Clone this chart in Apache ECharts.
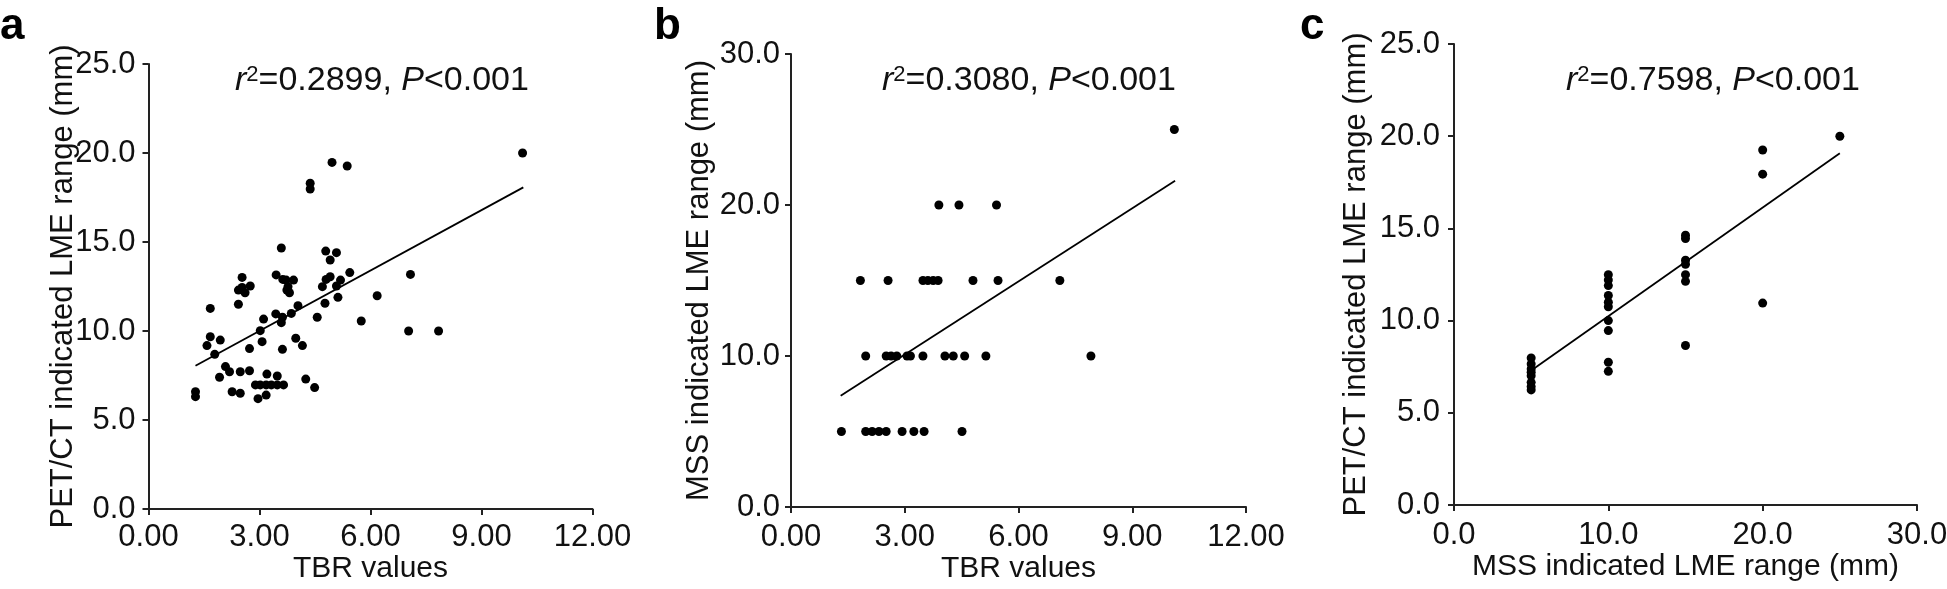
<!DOCTYPE html>
<html><head><meta charset="utf-8">
<script src="https://cdn.jsdelivr.net/npm/echarts@6/dist/echarts.min.js"></script>
<style>html,body{margin:0;padding:0;background:#fff}#c{width:1947px;height:589px}</style>
</head><body><div id="c"></div>
<script>
// ---- Panel a: TBR vs PET/CT indicated LME range ----
const aTBR = [1.27,1.27,1.67,1.58,1.67,1.94,1.79,1.92,2.08,2.19,2.26,2.48,2.48,2.43,2.43,2.53,2.61,2.75,2.53,2.73,2.73,2.89,2.96,3.02,3.07,3.11,3.02,3.18,3.18,3.20,3.32,3.45,3.44,3.48,3.48,3.59,3.59,3.62,3.62,3.65,3.63,3.72,3.77,3.81,3.92,3.74,3.86,3.98,4.04,4.16,4.25,4.37,4.37,4.49,4.56,4.70,4.77,4.79,4.80,4.91,4.91,4.96,5.08,5.08,5.12,5.19,5.37,5.44,5.75,6.18,7.03,7.08,7.84,10.11];
const aPET = [6.59,6.31,11.27,9.18,9.68,9.49,8.69,7.40,8.00,7.71,6.59,6.50,7.71,11.50,12.30,13.01,12.15,12.53,12.45,9.01,7.77,6.97,6.20,10.02,9.40,10.67,6.97,6.40,6.97,7.58,6.97,13.15,10.96,7.47,6.97,14.66,10.47,10.77,8.97,6.97,12.90,12.86,12.49,12.15,12.86,12.30,10.99,9.59,11.42,9.18,7.30,18.30,17.98,6.82,10.77,12.49,11.56,14.49,12.90,13.99,13.05,19.47,14.40,12.53,11.89,12.86,19.27,13.28,10.56,11.98,10.00,13.18,10.00,20.00];
const aFit = [[1.27, 8.05], [10.13, 18.07]];

// ---- Panel b: TBR vs MSS indicated LME range ----
const bTBR = [1.33,1.97,2.14,2.32,2.51,2.93,3.24,3.51,4.51, 1.97,2.51,2.64,2.79,3.06,3.15,3.48,4.06,4.28,4.58,5.14,7.91, 1.83,2.56,3.48,3.61,3.75,3.88,4.80,5.46,7.09, 3.90,4.43,5.42, 10.11];
const bMSS = [5,5,5,5,5,5,5,5,5, 10,10,10,10,10,10,10,10,10,10,10,10, 15,15,15,15,15,15,15,15,15, 20,20,20, 25];
const bFit = [[1.31, 7.37], [10.13, 21.6]];

// ---- Panel c: MSS vs PET/CT indicated LME range ----
const cMSS = [5,5,5,5,5,5,5,5, 10,10,10,10,10,10,10,10,10,10, 15,15,15,15,15,15,15, 20,20,20, 25];
const cPET = [7.97,7.65,7.38,7.20,7.01,6.65,6.42,6.24, 12.49,12.20,11.90,11.36,11.00,10.75,10.00,9.46,7.74,7.25, 14.63,14.45,13.27,13.05,12.49,12.13,8.65, 19.25,17.94,10.95, 20.00];
const cFit = [[5.0, 7.29], [25.0, 19.08]];

const panelLetters = ['a', 'b', 'c'];
const statTexts = [['0.2899', '0.001'], ['0.3080', '0.001'], ['0.7598', '0.001']];
const xNames = ['TBR values', 'TBR values', 'MSS indicated LME range (mm)'];
const yNames = ['PET/CT indicated LME range (mm)', 'MSS indicated LME range (mm)', 'PET/CT indicated LME range (mm)'];

const FONT = "'Liberation Sans', Arial, Helvetica, sans-serif";
const INK = '#111';

function zip(xs, ys) { return xs.map((v, i) => [v, ys[i]]); }

function axisBase(extra, nameSize) {
  return Object.assign({
    type: 'value',
    splitLine: { show: false },
    axisLine: { show: true, onZero: false, lineStyle: { color: '#222', width: 2 } },
    axisTick: { show: true, inside: false, length: 6, lineStyle: { color: '#222', width: 2 } },
    nameLocation: 'middle',
    nameMoveOverlap: false,
    nameTextStyle: { fontSize: nameSize, fontFamily: FONT, color: INK, fontWeight: 'normal' },
  }, extra);
}
function lbl(decimals, margin) {
  return { fontSize: 31, fontFamily: FONT, color: INK, margin: margin, showMinLabel: true, showMaxLabel: true,
    formatter: v => Number(v).toFixed(decimals) };
}

const grids = [
  { left: 148.5, top: 64, width: 444, height: 445 },
  { left: 791, top: 54, width: 455, height: 453 },
  { left: 1454, top: 44, width: 463, height: 461 },
].map(g => Object.assign({ containLabel: false, outerBoundsMode: 'none' }, g));

const xAxes = [
  axisBase({ gridIndex: 0, min: 0, max: 12, interval: 3, name: xNames[0], nameGap: 45, axisLabel: lbl(2, 13) }, 30),
  axisBase({ gridIndex: 1, min: 0, max: 12, interval: 3, name: xNames[1], nameGap: 47, axisLabel: lbl(2, 15) }, 30),
  axisBase({ gridIndex: 2, min: 0, max: 30, interval: 10, name: xNames[2], nameGap: 47, axisLabel: lbl(1, 15) }, 30),
];
const yAxes = [
  axisBase({ gridIndex: 0, min: 0, max: 25, interval: 5, name: yNames[0], nameGap: 70, axisLabel: lbl(1, 13) }, 31),
  axisBase({ gridIndex: 1, min: 0, max: 30, interval: 10, name: yNames[1], nameGap: 76, axisLabel: lbl(1, 11) }, 31),
  axisBase({ gridIndex: 2, min: 0, max: 25, interval: 5, name: yNames[2], nameGap: 82, axisLabel: lbl(1, 14) }, 31),
];

const scatterData = [zip(aTBR, aPET), zip(bTBR, bMSS), zip(cMSS, cPET)];
const fits = [aFit, bFit, cFit];
const series = [];
for (let i = 0; i < 3; i++) {
  series.push({ type: 'scatter', xAxisIndex: i, yAxisIndex: i, data: scatterData[i], symbol: 'circle', symbolSize: 9,
    itemStyle: { color: '#000', opacity: 1 }, silent: true, z: 3 });
  series.push({ type: 'line', xAxisIndex: i, yAxisIndex: i, data: fits[i], showSymbol: false, symbol: 'none',
    lineStyle: { color: '#000', width: 1.8 }, silent: true, z: 2 });
}

const rich = {
  i: { fontSize: 34, fontStyle: 'italic', fontWeight: 'normal', fontFamily: FONT, color: INK },
  s: { fontSize: 22, fontWeight: 'normal', fontFamily: FONT, color: INK, verticalAlign: 'top' },
  n: { fontSize: 34, fontWeight: 'normal', fontFamily: FONT, color: INK },
};
const letterPos = [0, 654, 1300];
const statPos = [[235, 64], [882, 64], [1566, 64]];
const titles = [];
for (let i = 0; i < 3; i++) {
  titles.push({ text: panelLetters[i], left: letterPos[i], top: 5, padding: 0,
    textStyle: { fontSize: 44, fontWeight: 'bold', fontFamily: FONT, color: '#000' } });
  titles.push({ text: '{i|r}{s|2}{n|=' + statTexts[i][0] + ', }{i|P}{n|<' + statTexts[i][1] + '}',
    left: statPos[i][0], top: statPos[i][1], padding: 0,
    textStyle: { rich: rich, fontSize: 34, fontWeight: 'normal', fontFamily: FONT, color: INK } });
}

const chart = echarts.init(document.getElementById('c'), null, { renderer: 'canvas' });
chart.setOption({
  animation: false,
  backgroundColor: '#fff',
  title: titles,
  grid: grids,
  xAxis: xAxes,
  yAxis: yAxes,
  series: series,
});
</script></body></html>
